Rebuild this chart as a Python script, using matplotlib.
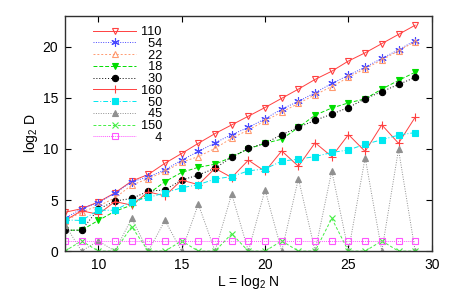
import numpy as np
import matplotlib
matplotlib.use('Agg')
import matplotlib.pyplot as plt

plt.rcParams['font.family'] = ['Liberation Sans', 'DejaVu Sans']
plt.rcParams['mathtext.default'] = 'regular'

# data ------------------------------------------------------------------

L = list(range(8, 30))

r110 = [3.8, 4.15, 4.8, 5.7, 6.85, 7.5, 8.6, 9.55, 10.55, 11.5, 12.35, 13.2,
        14.05, 14.95, 15.85, 16.8, 17.6, 18.6, 19.4, 20.3, 21.2, 22.1]
r54 = [3.2, 4.15, 4.75, 5.65, 6.8, 7.25, 7.95, 8.9, 9.75, 10.6, 11.4, 12.1,
       12.95, 13.9, 14.65, 15.5, 16.4, 17.2, 18.0, 18.85, 19.7, 20.6]
r22 = [2.9, 3.85, 4.4, 5.2, 6.45, 7.1, 7.8, 8.7, 9.25, 10.05, 11.05, 11.85,
       12.75, 13.6, 14.45, 15.3, 16.1, 17.0, 17.85, 18.7, 19.6, 20.5]
r18 = [2.05, 2.05, 3.0, 3.9, 4.5, 5.6, 6.8, 7.7, 8.2, 8.5, 9.2, 10.0,
       10.55, 10.95, 12.1, 13.3, 14.0, 14.5, 14.9, 15.85, 16.7, 17.5]
r30 = [2.05, 2.05, 4.1, 4.9, 5.15, 5.85, 6.0, 6.95, 7.45, 8.1, 9.2, 10.05,
       10.55, 11.4, 12.1, 12.8, 13.4, 14.05, 14.9, 15.6, 16.3, 17.0]
r160 = [3.0, 3.95, 3.6, 4.85, 4.5, 5.8, 5.4, 6.95, 6.5, 8.1, 7.2, 8.9,
        7.8, 9.8, 8.3, 10.6, 9.25, 11.4, 9.75, 12.35, 10.55, 13.1]
r50 = [3.05, 3.0, 4.0, 4.0, 4.85, 5.25, 5.7, 6.2, 6.5, 7.05, 7.3, 7.85,
       8.05, 8.8, 9.0, 9.25, 9.65, 9.9, 10.45, 10.9, 11.35, 11.6]
r45 = [2.6, 0, 1, 0, 3.2, 0, 3.0, 0, 4.6, 0, 5.6, 0,
       6.0, 0, 7.1, 0, 7.85, 0, 9.15, 0, 9.95, 0]
r150 = [0, 1, 0, 0, 2.4, 0, 0, 1, 0, 0, 1.7, 0,
        0, 1, 0, 0, 3.2, 0, 0, 1, 0, 0]
r4 = [1] * 22

FS = '\u2007'  # figure space, keeps the legend numbers right aligned

series = [
    ('110', r110, dict(color='#ff4040', ls='-', marker='v', mfc='none', ms=5)),
    (FS + '54', r54, dict(color='#4848ff', ls=(0, (1, 1.5)), marker=(6, 2, 0), ms=6)),
    (FS + '22', r22, dict(color='#ff9a70', ls=(0, (2, 2)), marker='^', mfc='none', ms=5)),
    (FS + '18', r18, dict(color='#00dd00', ls=(0, (4, 2)), marker='v', ms=5)),
    (FS + '30', r30, dict(color='#000000', ls=(0, (1, 2)), marker='o', ms=4.5)),
    ('160', r160, dict(color='#ff4040', ls='-', marker='+', ms=6)),
    (FS + '50', r50, dict(color='#00e8f0', ls=(0, (5, 2, 1, 2)), marker='s', ms=4.5)),
    (FS + '45', r45, dict(color='#909090', ls=(0, (1, 1.5)), marker='^', ms=4)),
    ('150', r150, dict(color='#44ee44', ls=(0, (3, 2)), marker='x', ms=5)),
    (FS + FS + '4', r4, dict(color='#ff55ff', ls=(0, (1, 1)), marker='s', mfc='none', ms=5)),
]

# plot ------------------------------------------------------------------

fig = plt.figure(figsize=(4.57, 2.91), dpi=100)
ax = fig.add_axes([0.142, 0.137, 0.803, 0.808])

for label, values, style in series:
    ax.plot(L, values, label=label, lw=0.7, mew=0.8, **style)

ax.set_xlim(8, 30)
ax.set_ylim(0, 23)
ax.set_xticks([10, 15, 20, 25, 30])
ax.set_yticks([0, 5, 10, 15, 20])
ax.tick_params(direction='in', top=True, right=True, length=4, labelsize=10, pad=5)
for s in ax.spines.values():
    s.set_linewidth(1.0)
    s.set_color('#303030')

ax.set_xlabel('L = log$_2$ N', fontsize=10, labelpad=1)
ax.set_ylabel('log$_2$ D', fontsize=10, labelpad=2)

leg = ax.legend(loc='upper left', bbox_to_anchor=(0.05, 1.0), frameon=False,
                fontsize=9.2, handlelength=3.3, handletextpad=0.4,
                labelspacing=-0.02, borderpad=0.3, markerfirst=True)

fig.savefig('out.png', dpi=100)
